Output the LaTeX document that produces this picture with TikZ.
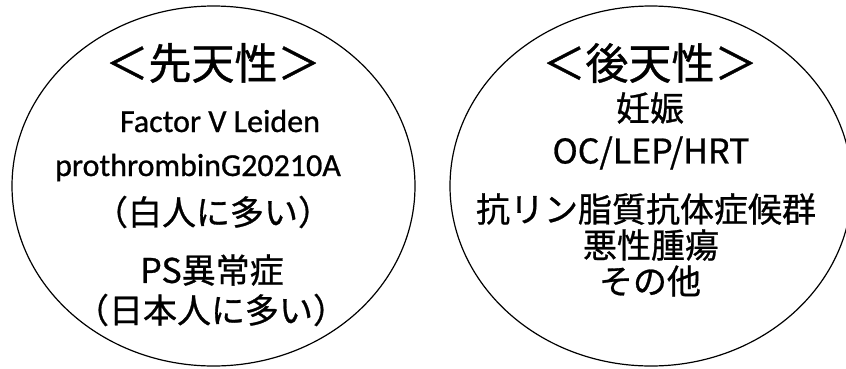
\documentclass[tikz,border=0pt]{standalone}
\usepackage{fontspec}
\setmainfont{Noto Sans CJK JP}[FakeBold=0.8]
\newfontfamily\latinfont{Carlito}[FakeBold=0.8]
\begin{document}
\begin{tikzpicture}[x=1pt,y=-1pt,
  circ/.style={draw=black,line width=1.2pt},
  title/.style={font=\fontsize{43}{45}\selectfont,inner sep=0pt,anchor=center},
  item/.style={font=\fontsize{34}{36}\selectfont,inner sep=0pt,anchor=center},
  litem/.style={font=\latinfont\fontsize{32}{34}\selectfont,inner sep=0pt,anchor=base}]
\useasboundingbox (0,0) rectangle (846,368);
\draw[circ] (213.5,186) ellipse [x radius=201.5, y radius=180];
\draw[circ] (651,186) ellipse [x radius=201, y radius=180];
% left
\node[title] (lt) at (213,63) {＜先天性＞};
\node[litem] (l1) at (220,132) {Factor V Leiden};
\node[litem] (l2) at (198,176) {prothrombinG20210A};
\node[item] (l3) at (213,212) {（白人に多い）};
\node[item] (l4) at (212,270) {PS異常症};
\node[item] (l5) at (211,310) {（日本人に多い）};
% right
\node[title] (rt) at (650,63) {＜後天性＞};
\node[item] (r1) at (650,108) {妊娠};
\node[item] (r2) at (651,153) {OC/LEP/HRT};
\node[item] (r3) at (646,209) {抗リン脂質抗体症候群};
\node[item] (r4) at (651,245) {悪性腫瘍};
\node[item] (r5) at (650,281) {その他};
\end{tikzpicture}
\end{document}
